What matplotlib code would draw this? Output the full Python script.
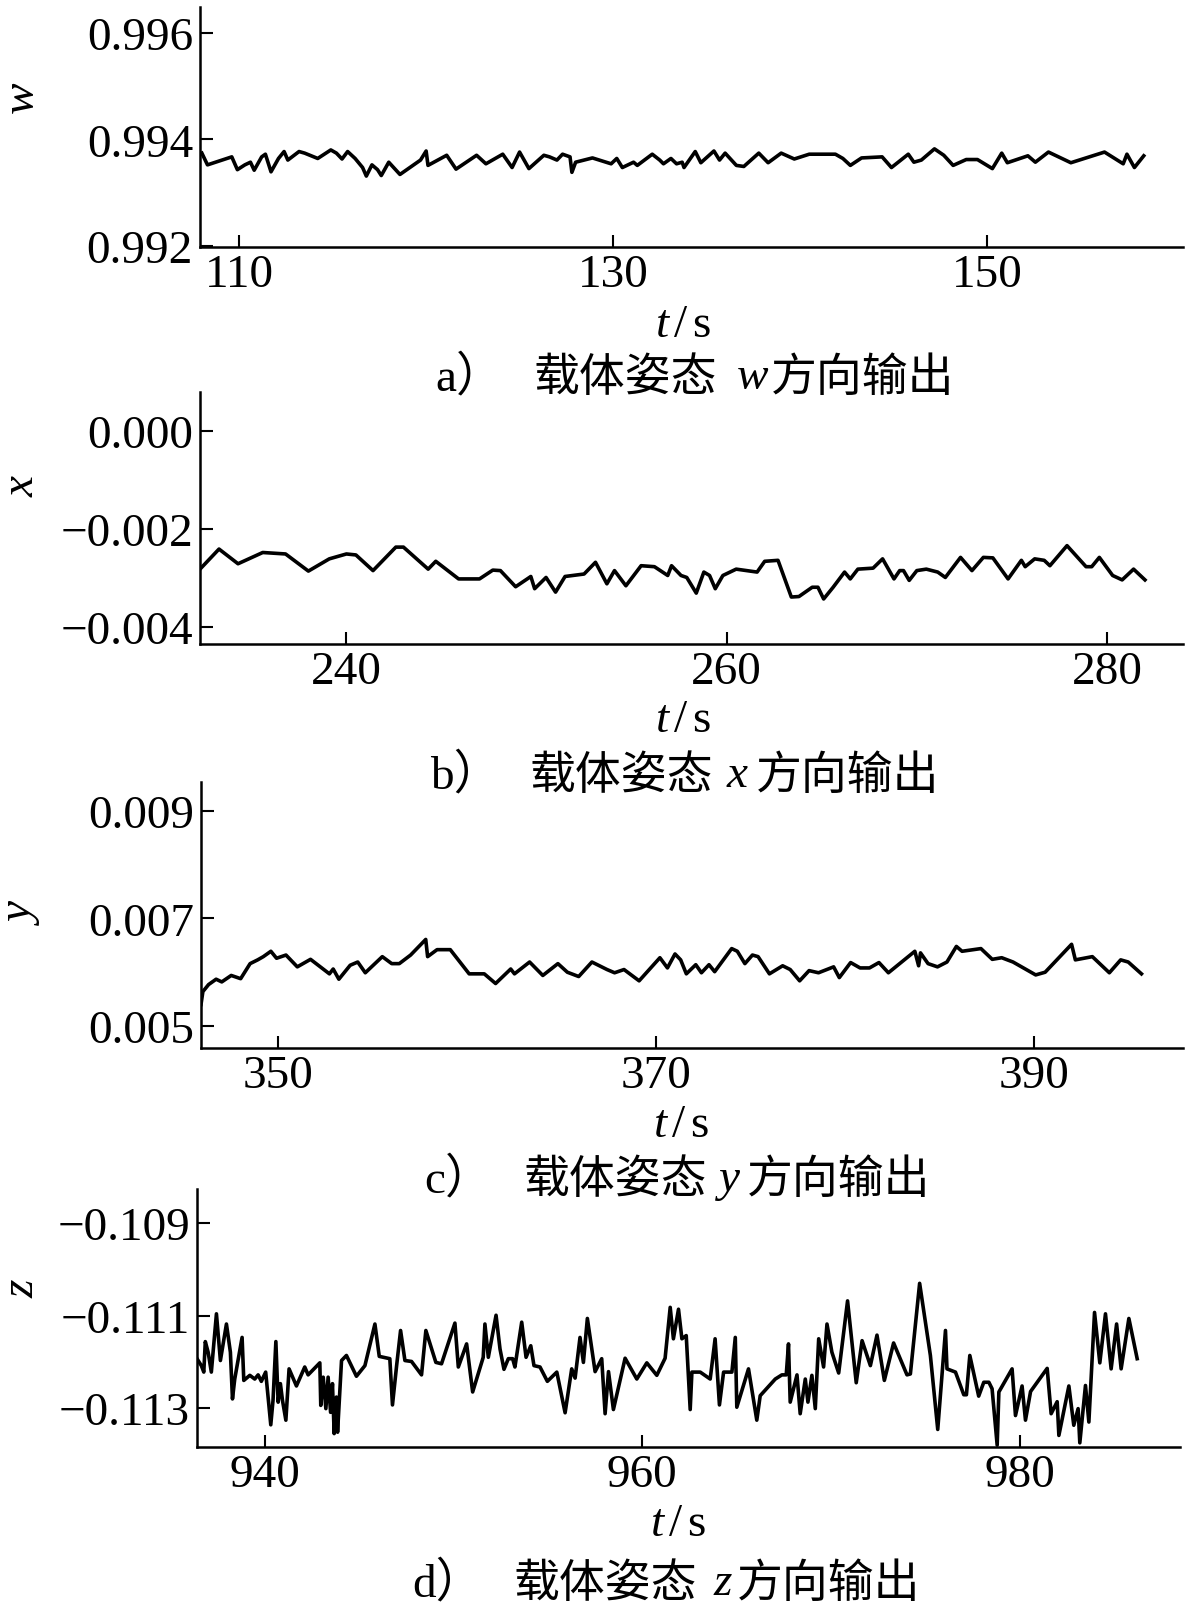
import matplotlib
matplotlib.use("Agg")
import matplotlib.pyplot as plt

plt.rcParams['font.family'] = ['Liberation Serif', 'Noto Sans CJK SC']
plt.rcParams['mathtext.fontset'] = 'custom'
plt.rcParams['mathtext.rm'] = 'Liberation Serif'
plt.rcParams['mathtext.it'] = 'Liberation Serif:italic'

# --- data ---
t_w = [108.0, 108.3, 109.6, 109.9, 110.3, 110.6, 110.8, 111.2, 111.4, 111.7, 112.1, 112.4, 112.6,
       113.2, 113.5, 114.2, 114.9, 115.2, 115.5, 115.8, 116.2, 116.6, 116.8, 117.1, 117.4, 117.6,
       118.0, 118.6, 119.7, 120.0, 120.1, 121.1, 121.6, 122.7, 123.2, 124.1, 124.6, 125.0, 125.5,
       126.3, 126.6, 127.0, 127.3, 127.7, 127.8, 128.0, 128.9, 129.9, 130.2, 130.5, 131.1, 131.3,
       132.1, 132.5, 132.7, 133.1, 133.4, 133.7, 133.8, 134.4, 134.7, 135.4, 135.7, 136.0, 136.6,
       137.0, 137.8, 138.3, 139.0, 139.7, 140.5, 141.9, 142.3, 142.7, 143.3, 144.4, 144.9, 145.8,
       146.1, 146.5, 147.2, 147.7, 148.2, 148.9, 149.5, 150.3, 150.8, 151.1, 152.2, 152.6, 153.3,
       154.5, 156.3, 157.3, 157.5, 157.9, 158.4]
w_vals = [0.99374, 0.99352, 0.99367, 0.99343, 0.99352, 0.99357, 0.99342, 0.99367, 0.99372, 0.99339,
          0.99364, 0.99377, 0.99361, 0.99377, 0.99374, 0.99364, 0.99380, 0.99374, 0.99363, 0.99377,
          0.99364, 0.99347, 0.99331, 0.99352, 0.99343, 0.99332, 0.99357, 0.99334, 0.99361, 0.99378,
          0.99351, 0.99370, 0.99344, 0.99370, 0.99354, 0.99372, 0.99347, 0.99376, 0.99345, 0.99370,
          0.99367, 0.99361, 0.99372, 0.99367, 0.99338, 0.99357, 0.99365, 0.99354, 0.99364, 0.99347,
          0.99357, 0.99351, 0.99372, 0.99361, 0.99354, 0.99364, 0.99354, 0.99357, 0.99347, 0.99377,
          0.99356, 0.99378, 0.99361, 0.99374, 0.99351, 0.99349, 0.99374, 0.99356, 0.99374, 0.99363,
          0.99372, 0.99372, 0.99364, 0.99351, 0.99365, 0.99367, 0.99347, 0.99372, 0.99357, 0.99361,
          0.99382, 0.99370, 0.99351, 0.99362, 0.99362, 0.99345, 0.99374, 0.99356, 0.99369, 0.99357,
          0.99376, 0.99356, 0.99376, 0.99354, 0.99372, 0.99347, 0.99369]

t_x = [232.3, 233.3, 234.3, 235.6, 236.8, 238.0, 239.1, 240.0, 240.5, 241.4, 242.6, 243.0, 244.3,
       244.7, 245.9, 247.0, 247.7, 248.1, 248.9, 249.7, 249.9, 250.5, 251.0, 251.5, 252.5, 253.1,
       253.7, 254.1, 254.7, 255.5, 256.2, 256.9, 257.1, 257.6, 257.9, 258.4, 258.8, 259.1, 259.4,
       259.8, 260.5, 261.6, 262.0, 262.7, 263.4, 263.8, 264.5, 264.8, 265.1, 265.6, 266.2, 266.5,
       266.9, 267.7, 268.2, 268.8, 269.1, 269.3, 269.6, 270.0, 270.5, 271.1, 271.5, 272.3, 272.9,
       273.5, 274.0, 274.8, 275.5, 275.7, 276.2, 276.7, 277.0, 277.9, 278.9, 279.2, 279.6, 280.3,
       280.8, 281.4, 282.0]
x_vals = [-0.00282, -0.00241, -0.00271, -0.00248, -0.00251, -0.00286, -0.00261, -0.00251, -0.00253,
          -0.00285, -0.00237, -0.00237, -0.00282, -0.00266, -0.00302, -0.00302, -0.00284, -0.00285,
          -0.00318, -0.00297, -0.00322, -0.00299, -0.00329, -0.00297, -0.00292, -0.00268, -0.00312,
          -0.00285, -0.00316, -0.00275, -0.00277, -0.00295, -0.00275, -0.00295, -0.00299, -0.00331,
          -0.00288, -0.00295, -0.00322, -0.00295, -0.00282, -0.00288, -0.00266, -0.00264, -0.00339,
          -0.00338, -0.00319, -0.00319, -0.00343, -0.00319, -0.00288, -0.00302, -0.00282, -0.00280,
          -0.00261, -0.00302, -0.00285, -0.00285, -0.00305, -0.00285, -0.00282, -0.00288, -0.00299,
          -0.00258, -0.00285, -0.00258, -0.00259, -0.00302, -0.00264, -0.00277, -0.00261, -0.00264,
          -0.00275, -0.00234, -0.00277, -0.00277, -0.00258, -0.00295, -0.00304, -0.00282, -0.00304]

t_y = [345.9, 346.0, 346.3, 346.7, 347.0, 347.5, 348.0, 348.5, 348.9, 349.2, 349.6, 349.9, 350.4,
       351.0, 351.7, 352.7, 352.9, 353.2, 353.8, 354.2, 354.6, 355.5, 356.0, 356.4, 357.0, 357.8,
       357.9, 358.4, 359.1, 360.1, 360.9, 361.5, 362.3, 362.5, 363.3, 364.0, 364.8, 365.3, 365.9,
       366.6, 367.4, 367.8, 368.3, 369.1, 370.2, 370.6, 371.0, 371.3, 371.6, 372.1, 372.4, 372.8,
       373.1, 374.0, 374.3, 374.7, 375.1, 375.4, 376.0, 376.7, 377.1, 377.6, 378.1, 378.6, 379.4,
       379.7, 380.3, 380.8, 381.3, 381.8, 382.3, 383.0, 383.7, 383.9, 384.0, 384.4, 384.9, 385.4,
       385.9, 386.2, 387.2, 387.8, 388.3, 388.9, 390.1, 390.6, 392.0, 392.2, 393.1, 394.0, 394.6,
       395.0, 395.7]
y_vals = [0.00540, 0.00564, 0.00577, 0.00587, 0.00582, 0.00594, 0.00588, 0.00616, 0.00623, 0.00629,
          0.00639, 0.00626, 0.00632, 0.00610, 0.00624, 0.00597, 0.00606, 0.00587, 0.00613, 0.00619,
          0.00599, 0.00629, 0.00616, 0.00616, 0.00632, 0.00661, 0.00629, 0.00642, 0.00642, 0.00597,
          0.00597, 0.00579, 0.00606, 0.00597, 0.00619, 0.00594, 0.00616, 0.00600, 0.00592, 0.00619,
          0.00605, 0.00599, 0.00605, 0.00584, 0.00627, 0.00608, 0.00634, 0.00623, 0.00597, 0.00614,
          0.00599, 0.00614, 0.00601, 0.00644, 0.00639, 0.00616, 0.00632, 0.00629, 0.00597, 0.00612,
          0.00605, 0.00584, 0.00603, 0.00599, 0.00610, 0.00590, 0.00618, 0.00608, 0.00608, 0.00618,
          0.00599, 0.00619, 0.00639, 0.00612, 0.00636, 0.00616, 0.00610, 0.00619, 0.00648, 0.00639,
          0.00644, 0.00624, 0.00627, 0.00619, 0.00595, 0.00600, 0.00652, 0.00623, 0.00629, 0.00599,
          0.00623, 0.00619, 0.00597]

t_z = [936.40, 936.63, 936.76, 936.84, 936.99, 937.16, 937.43, 937.64, 937.96, 938.17, 938.28, 938.40,
       938.79, 938.88, 939.20, 939.46, 939.64, 939.81, 940.04, 940.31, 940.43, 940.58, 940.70, 940.82,
       940.93, 941.11, 941.28, 941.67, 942.11, 942.29, 942.91, 942.96, 943.09, 943.23, 943.35, 943.48,
       943.58, 943.67, 943.79, 943.85, 944.06, 944.32, 944.85, 945.30, 945.83, 946.06, 946.62, 946.76,
       946.98, 947.19, 947.42, 947.77, 948.30, 948.53, 949.06, 949.36, 950.07, 950.25, 950.69, 951.01,
       951.57, 951.66, 951.84, 952.25, 952.46, 952.67, 952.90, 953.13, 953.25, 953.61, 953.84, 954.09,
       954.26, 954.58, 954.97, 955.47, 955.91, 956.26, 956.44, 956.70, 956.88, 957.09, 957.50, 957.85,
       958.03, 958.21, 958.47, 959.09, 959.71, 960.24, 960.77, 961.21, 961.48, 961.65, 961.92, 962.10,
       962.33, 962.54, 962.63, 963.07, 963.60, 963.86, 964.09, 964.31, 964.75, 964.93, 965.01, 965.63,
       966.07, 966.25, 967.05, 967.40, 967.63, 967.75, 967.84, 968.20, 968.37, 968.64, 968.78, 968.99,
       969.17, 969.35, 969.61, 969.79, 970.05, 970.41, 970.88, 971.34, 971.65, 972.09, 972.44, 972.83,
       973.32, 974.03, 974.21, 974.70, 975.27, 975.66, 976.07, 976.15, 976.60, 977.04, 977.18, 977.36,
       977.83, 978.10, 978.37, 978.54, 978.81, 978.90, 979.60, 979.78, 980.13, 980.31, 980.58, 981.46,
       981.67, 981.99, 982.08, 982.61, 982.87, 983.10, 983.19, 983.49, 983.67, 983.97, 984.25, 984.55,
       984.85, 985.14, 985.38, 985.79, 986.23]
z_vals = [-0.11193, -0.11208, -0.11222, -0.11156, -0.11179, -0.11222, -0.11096, -0.11197, -0.11118,
          -0.11179, -0.11280, -0.11237, -0.11147, -0.11240, -0.11229, -0.11237, -0.11228, -0.11242,
          -0.11222, -0.11336, -0.11283, -0.11156, -0.11287, -0.11247, -0.11283, -0.11326, -0.11215,
          -0.11252, -0.11211, -0.11228, -0.11202, -0.11294, -0.11233, -0.11301, -0.11233, -0.11309,
          -0.11247, -0.11355, -0.11276, -0.11352, -0.11197, -0.11186, -0.11231, -0.11208, -0.11118,
          -0.11188, -0.11193, -0.11293, -0.11208, -0.11132, -0.11197, -0.11199, -0.11228, -0.11132,
          -0.11201, -0.11204, -0.11116, -0.11211, -0.11161, -0.11265, -0.11190, -0.11118, -0.11190,
          -0.11099, -0.11172, -0.11216, -0.11193, -0.11193, -0.11211, -0.11114, -0.11190, -0.11165,
          -0.11208, -0.11211, -0.11242, -0.11222, -0.11310, -0.11215, -0.11235, -0.11147, -0.11201,
          -0.11106, -0.11221, -0.11193, -0.11312, -0.11221, -0.11303, -0.11192, -0.11237, -0.11202,
          -0.11229, -0.11192, -0.11082, -0.11150, -0.11086, -0.11150, -0.11143, -0.11303, -0.11222,
          -0.11222, -0.11237, -0.11150, -0.11293, -0.11222, -0.11222, -0.11147, -0.11298, -0.11215,
          -0.11326, -0.11273, -0.11237, -0.11228, -0.11228, -0.11161, -0.11287, -0.11228, -0.11312,
          -0.11237, -0.11287, -0.11229, -0.11301, -0.11150, -0.11211, -0.11118, -0.11179, -0.11224,
          -0.11068, -0.11245, -0.11154, -0.11208, -0.11142, -0.11240, -0.11159, -0.11228, -0.11226,
          -0.11030, -0.11186, -0.11346, -0.11132, -0.11215, -0.11222, -0.11271, -0.11271, -0.11186,
          -0.11274, -0.11244, -0.11244, -0.11258, -0.11380, -0.11265, -0.11215, -0.11316, -0.11252,
          -0.11326, -0.11264, -0.11214, -0.11312, -0.11286, -0.11359, -0.11252, -0.11337, -0.11301,
          -0.11375, -0.11251, -0.11330, -0.11093, -0.11202, -0.11096, -0.11215, -0.11118, -0.11215,
          -0.11106, -0.11193]

var_names = ['w', 'x', 'y', 'z']
letters = ['a', 'b', 'c', 'd']
xticks_all = [[110, 130, 150], [240, 260, 280], [350, 370, 390], [940, 960, 980]]
yticks_all = [[0.992, 0.994, 0.996], [-0.004, -0.002, 0.000], [0.005, 0.007, 0.009],
              [-0.113, -0.111, -0.109]]
series = [(t_w, w_vals), (t_x, x_vals), (t_y, y_vals), (t_z, z_vals)]

# --- layout (pixels in the 1200x1624 figure) ---
W, H = 1200, 1624
FS = 34
CJK_FS = 33
axes_px = [(200, 8, 1183, 248), (200, 393, 1183, 645), (201, 783, 1183, 1049), (197, 1190, 1180, 1448)]
xlims = [(107.9, 160.5), (232.3, 284.0), (345.9, 397.9), (936.4, 988.5)]
ylims = [(0.99198, 0.99648), (-0.00435, 0.0008), (0.00459, 0.00954), (-0.11384, -0.10826)]
ylabel_px = [(22, 97), (22, 487), (23, 915), (22, 1289)]
xlabel_px = [(683, 326), (683, 721), (681, 1126), (678, 1525)]
# caption x positions: letter, first Chinese part, italic var, second Chinese part; then y
caption_px = [(435, 533, 737, 771, 378), (430, 530, 727, 756, 776),
              (424, 523, 719, 747, 1180), (412, 514, 714, 737, 1584)]

fig = plt.figure(figsize=(12, 16.24), dpi=100)


def fx(x):
    return x / W


def fy(y):
    return 1 - y / H


def fmt_tick(v):
    s = f"{v:.3f}"
    if s == "-0.000":
        s = "0.000"
    return s.replace('-', '\u2212')


for i in range(4):
    l, t, r, b = axes_px[i]
    ax = fig.add_axes([fx(l), fy(b), (r - l) / W, (b - t) / H])
    tt, vv = series[i]
    ax.plot(tt, vv, color='black', lw=2.6, solid_joinstyle='round')
    ax.set_xlim(*xlims[i])
    ax.set_ylim(*ylims[i])
    ax.set_xticks(xticks_all[i], labels=[str(v) for v in xticks_all[i]])
    ax.set_yticks(yticks_all[i], labels=[fmt_tick(v) for v in yticks_all[i]])
    for side in ('top', 'right'):
        ax.spines[side].set_visible(False)
    for side in ('left', 'bottom'):
        ax.spines[side].set_linewidth(1.8)
    ax.tick_params(direction='in', length=9, width=1.5, labelsize=FS, colors='black')
    ax.tick_params(axis='x', pad=5)
    ax.tick_params(axis='y', pad=5)

    # y label (italic variable name)
    yx, yy = ylabel_px[i]
    fig.text(fx(yx), fy(yy), var_names[i], fontsize=FS, style='italic', rotation=90,
             ha='center', va='center', family='Liberation Serif')
    # x label t/s
    xx, xy = xlabel_px[i]
    fig.text(fx(xx), fy(xy), r'$t\,/\,$s', fontsize=FS, ha='center', va='center')

    # caption
    cl, c1, cv, c2, cy = caption_px[i]
    fig.text(fx(cl), fy(cy), letters[i] + '\uff09', fontsize=FS, ha='left', va='center',
             family=['Liberation Serif', 'Noto Sans CJK SC'])
    fig.text(fx(c1), fy(cy), '载体姿态', fontsize=CJK_FS, ha='left', va='center',
             family=['Noto Sans CJK SC'])
    fig.text(fx(cv), fy(cy), var_names[i], fontsize=FS, style='italic', ha='left', va='center',
             family='Liberation Serif')
    fig.text(fx(c2), fy(cy), '方向输出', fontsize=CJK_FS, ha='left', va='center',
             family=['Noto Sans CJK SC'])

fig.savefig('out.png', dpi=100)
